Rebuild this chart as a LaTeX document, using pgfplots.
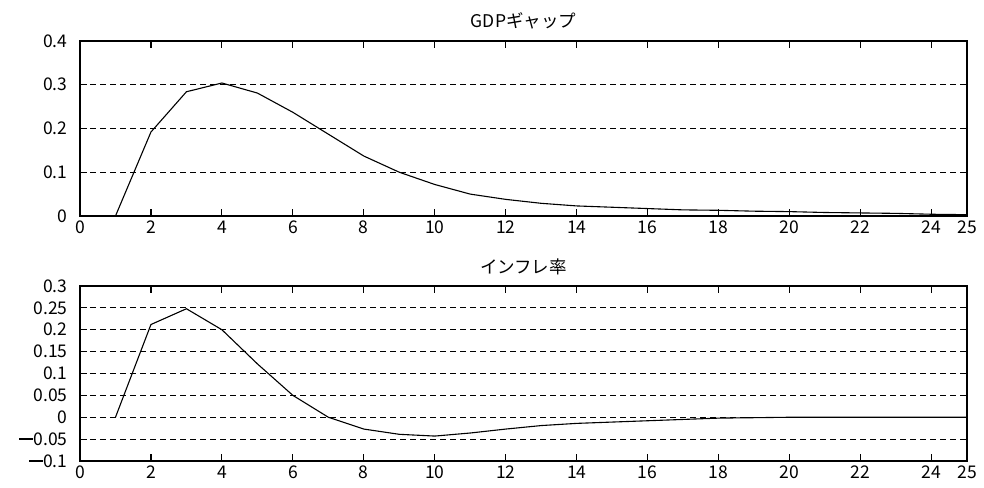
\documentclass[border=0pt]{standalone}
\usepackage{fontspec}
\setmainfont{Noto Sans CJK JP}
\usepackage{pgfplots}
\pgfplotsset{compat=1.18}
\newcommand{\mns}{\rule[5.6pt]{14pt}{1.6pt}}
\begin{document}
\begin{tikzpicture}
\useasboundingbox (-80pt,-271pt) rectangle (904pt,216pt);
\pgfplotsset{
  every axis/.append style={
    scale only axis, width=887pt, height=175pt, anchor=south west,
    xmin=0, xmax=25,
    xtick={0,2,4,6,8,10,12,14,16,18,20,22,24,25},
    xticklabels={0,2,4,6,8,10,12,14,16,18,20,22,24,25},
    tick align=inside, major tick length=7pt,
    axis line style={line width=1.1pt},
    every tick/.style={black, line width=1.1pt},
    ymajorgrids,
    grid style={black, line width=0.9pt, dash pattern=on 6pt off 4pt},
    tick label style={font=\fontsize{17.5}{20}\selectfont},
    yticklabel style={xshift=-9pt},
    xticklabel style={yshift=-1pt},
    title style={font=\fontsize{17.5}{20}\selectfont, yshift=2pt},
    /pgf/number format/assume math mode=true,
  }
}
\begin{axis}[at={(0pt,0pt)},
  ymin=0, ymax=0.4,
  ytick={0,0.1,0.2,0.3,0.4},
  yticklabels={0,0.1,0.2,0.3,0.4},
  title={GDPギャップ}]
\addplot[black, line width=1.1pt] coordinates {
(1,0) (2,0.192) (3,0.284) (4,0.304) (5,0.281) (6,0.237) (7,0.187) (8,0.137)
(9,0.100) (10,0.072) (11,0.050) (12,0.038) (13,0.029) (14,0.023) (15,0.020)
(16,0.017) (17,0.014) (18,0.013) (19,0.011) (20,0.010) (21,0.008) (22,0.007)
(23,0.006) (24,0.004) (25,0.003)};
\end{axis}
\begin{axis}[at={(0pt,-245pt)},
  ymin=-0.1, ymax=0.3,
  ytick={-0.1,-0.05,0,0.05,0.1,0.15,0.2,0.25,0.3},
  yticklabels={\mns0.1,\mns0.05,0,0.05,0.1,0.15,0.2,0.25,0.3},
  title={インフレ率}]
\addplot[black, line width=1.1pt] coordinates {
(1,0) (2,0.212) (3,0.248) (4,0.200) (5,0.122) (6,0.050) (7,0.000) (8,-0.027)
(9,-0.039) (10,-0.043) (11,-0.036) (12,-0.027) (13,-0.019) (14,-0.014) (15,-0.011)
(16,-0.008) (17,-0.005) (18,-0.002) (19,-0.001) (20,0) (21,0) (22,0)
(23,0) (24,0) (25,0)};
\end{axis}
\end{tikzpicture}
\end{document}
